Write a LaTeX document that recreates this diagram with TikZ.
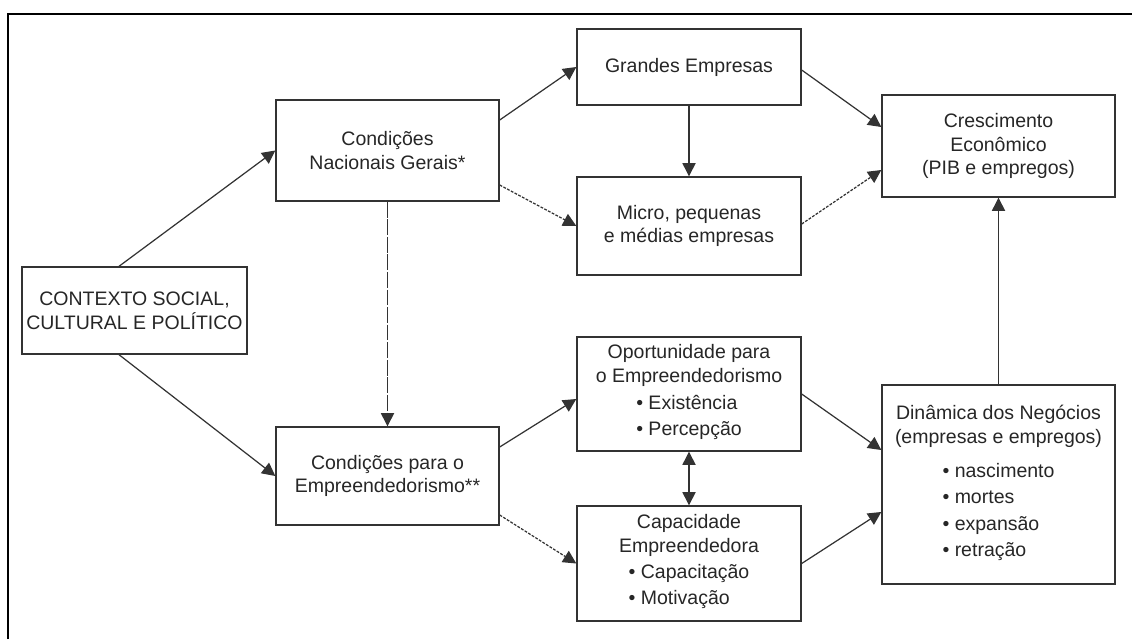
\documentclass[tikz,border=0pt]{standalone}
\usepackage{fontspec}
\setmainfont{Liberation Sans}
\usetikzlibrary{arrows.meta}

\newcommand{\bulletlist}[1]{\begin{tabular}[t]{@{}l@{}}#1\end{tabular}}
\renewcommand{\arraystretch}{1.1}

\tikzset{
    box/.style = {draw = black!80, line width = 0.8pt, inner sep = 0pt, align = center,
                  text = black!85, font = \fontsize{11.1pt}{13.6pt}\selectfont},
    link/.style = {draw = black!80, line width = 0.7pt, -{Triangle[length = 7.5pt, width = 7.5pt]}},
    fine/.style = {dash pattern = on 1.6pt off 0.8pt},
    longdash/.style = {dash pattern = on 9pt off 1pt}
}

\begin{document}
\begin{tikzpicture}[x = 0.02cm, y = -0.02cm]
        \useasboundingbox (0,0) rectangle (1132,639);

        \draw [line width = 1.7pt] (8,639) -- (8,14) -- (1132,14);

        \node (ctx) [box, minimum width = 4.5cm, minimum height = 1.74cm] at (134.5, 310.5) {CONTEXTO SOCIAL,\\CULTURAL E POLÍTICO};
        \node (nac) [box, minimum width = 4.46cm, minimum height = 2.02cm] at (387.5, 150.5) {Condições\\Nacionais Gerais*};
        \node (pem) [box, minimum width = 4.46cm, minimum height = 1.96cm] at (387.5, 476) {Condições para o\\Empreendedorismo**};
        \node (gra) [box, minimum width = 4.48cm, minimum height = 1.52cm] at (689, 67) {Grandes Empresas};
        \node (mic) [box, minimum width = 4.48cm, minimum height = 1.96cm] at (689, 226) {Micro, pequenas\\e médias empresas};
        \node (opo) [box, minimum width = 4.48cm, minimum height = 2.28cm] at (689, 394) {Oportunidade para\\o Empreendedorismo\\[1.5pt] \bulletlist{• Existência\\• Percepção}};
        \node (cap) [box, minimum width = 4.48cm, minimum height = 2.3cm] at (689, 563.5) {Capacidade\\Empreendedora\\[1pt] \bulletlist{• Capacitação\\• Motivação}};
        \node (cre) [box, minimum width = 4.66cm, minimum height = 2.04cm] at (998.5, 146) {Crescimento\\Econômico\\(PIB e empregos)};
        \node (din) [box, minimum width = 4.66cm, minimum height = 3.98cm] at (998.5, 484.5) {Dinâmica dos Negócios\\(empresas e empregos)\\[6pt] \bulletlist{• nascimento\\• mortes\\• expansão\\• retração}};

        \draw [link] ([xshift = -0.31cm]ctx.north) -- (nac.west);
        \draw [link] ([xshift = -0.31cm]ctx.south) -- (pem.west);

        \draw [link] ([yshift = 0.61cm]nac.east) -- (gra.west);
        \draw [link, fine] ([yshift = -0.69cm]nac.east) -- (mic.west);
        \draw [link, longdash] (nac.south) -- (pem.north);

        \draw [link] (gra.south) -- (mic.north);
        \draw [link] ([yshift = -0.06cm]gra.east) -- ([yshift = 0.38cm]cre.west);
        \draw [link, fine] ([yshift = 0.04cm]mic.east) -- ([yshift = -0.48cm]cre.west);

        \draw [link] ([yshift = 0.58cm]pem.east) -- ([yshift = -0.1cm]opo.west);
        \draw [link, fine] ([yshift = -0.78cm]pem.east) -- (cap.west);
        \draw [link, {Triangle[length = 7.5pt, width = 7.5pt]}-{Triangle[length = 7.5pt, width = 7.5pt]}] (opo.south) -- (cap.north);

        \draw [link] (opo.east) -- ([yshift = 0.69cm]din.west);
        \draw [link] (cap.east) -- ([yshift = -0.55cm]din.west);
        \draw [link] (din.north) -- (cre.south);

    \end{tikzpicture}
\end{document}
